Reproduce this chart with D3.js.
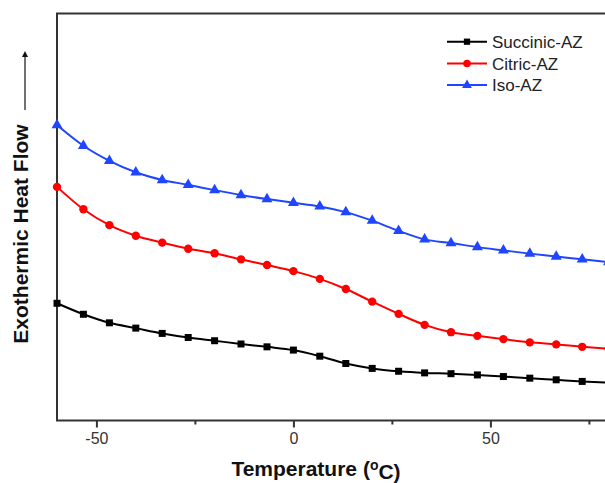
<!DOCTYPE html>
<html>
<head>
<meta charset="utf-8">
<script src="https://cdn.jsdelivr.net/npm/d3@7"></script>
<style>
  html, body { margin: 0; padding: 0; background: #fff; overflow: hidden; }
  svg { display: block; font-family: "Liberation Sans", Arial, sans-serif; }
</style>
</head>
<body>
<svg id="chart" width="605" height="483"></svg>
<script>
// Temperature sampling (°C) shared by all three DSC traces
const temperature = [-60, -53.3, -46.7, -40, -33.3, -26.7, -20, -13.3, -6.7, 0,
  6.7, 13.3, 20, 26.7, 33.3, 40, 46.7, 53.3, 60, 66.7, 73.3, 80];

// Heat flow, arbitrary units (exotherm up)
const succinicAZ = [28.8, 26.1, 24.0, 22.7, 21.4, 20.4, 19.6, 18.8, 18.1, 17.3,
  15.8, 14.0, 12.8, 12.1, 11.7, 11.5, 11.2, 10.8, 10.4, 10.0, 9.6, 9.3];
const citricAZ = [57.4, 51.9, 48.0, 45.4, 43.7, 42.2, 41.1, 39.6, 38.2, 36.7,
  34.8, 32.3, 29.2, 26.2, 23.5, 21.7, 20.8, 20.0, 19.2, 18.7, 18.1, 17.6];
const isoAZ = [72.6, 67.5, 63.8, 61.0, 59.1, 57.9, 56.6, 55.4, 54.4, 53.5,
  52.6, 51.2, 49.1, 46.6, 44.5, 43.6, 42.6, 41.8, 41.0, 40.3, 39.6, 38.9];

const seriesNames = ["Succinic-AZ", "Citric-AZ", "Iso-AZ"];
const majorTicks = [-50, 0, 50];
const minorTicks = [-25, 25, 75];

const series = [
  { name: seriesNames[0], values: succinicAZ, color: "#000000", symbol: d3.symbolSquare, size: 49 },
  { name: seriesNames[1], values: citricAZ, color: "#ff0000", symbol: d3.symbolCircle, size: 55 },
  { name: seriesNames[2], values: isoAZ, color: "#1f45ff", symbol: d3.symbolTriangle, size: 52 }
];

const svg = d3.select("#chart");
const x = d3.scaleLinear().domain([-60, 80]).range([57, 608.6]);
const y = d3.scaleLinear().domain([0, 100]).range([420.5, 13.5]);

// Plot frame
svg.append("rect")
  .attr("x", x(-60)).attr("y", y(100))
  .attr("width", x(80) - x(-60)).attr("height", y(0) - y(100))
  .attr("fill", "none").attr("stroke", "#333").attr("stroke-width", 2);

// Bottom axis: major ticks with labels, minor ticks without
const axisG = svg.append("g").attr("transform", `translate(0,${y(0)})`);
axisG.call(d3.axisBottom(x).tickValues(majorTicks).tickSize(7).tickPadding(5)
  .tickFormat(d => String(d)));
axisG.call(g => g.select(".domain").remove());
axisG.selectAll(".tick line").attr("stroke", "#333").attr("stroke-width", 2);
axisG.selectAll(".tick text").attr("fill", "#333").style("font-size", "16px")
  .style("font-family", "'Liberation Sans', Arial, sans-serif");

const minorG = svg.append("g").attr("transform", `translate(0,${y(0)})`);
minorG.call(d3.axisBottom(x).tickValues(minorTicks).tickSize(4).tickFormat(""));
minorG.call(g => g.select(".domain").remove());
minorG.selectAll(".tick line").attr("stroke", "#333").attr("stroke-width", 2);

// Curves and markers
const line = d3.line()
  .x((d, i) => x(temperature[i]))
  .y(d => y(d))
  .curve(d3.curveMonotoneX);

series.forEach(s => {
  svg.append("path")
    .datum(s.values)
    .attr("d", line)
    .attr("fill", "none")
    .attr("stroke", s.color)
    .attr("stroke-width", 2);
  svg.append("g").selectAll("path")
    .data(s.values)
    .join("path")
    .attr("transform", (d, i) => `translate(${x(temperature[i])},${y(d)})`)
    .attr("d", d3.symbol().type(s.symbol).size(s.size))
    .attr("fill", s.color);
});

// Legend
const legend = svg.append("g").attr("transform", "translate(447,41.7)");
series.forEach((s, i) => {
  const row = legend.append("g").attr("transform", `translate(0,${i * 21.7})`);
  row.append("line").attr("x1", 0).attr("x2", 40).attr("y1", 0).attr("y2", 0)
    .attr("stroke", s.color).attr("stroke-width", 2);
  row.append("path").attr("transform", "translate(20,0)")
    .attr("d", d3.symbol().type(s.symbol).size(s.size * 0.8))
    .attr("fill", s.color);
  row.append("text").attr("x", 45).attr("y", 0).attr("dy", "0.36em")
    .attr("fill", "#222").style("font-size", "17px").text(s.name);
});

// Axis titles
const xTitle = svg.append("text")
  .attr("x", 316).attr("y", 476)
  .attr("text-anchor", "middle")
  .attr("fill", "#111")
  .style("font-size", "21px").style("font-weight", "bold");
xTitle.append("tspan").text("Temperature (");
xTitle.append("tspan").attr("dy", "-0.45em").style("font-size", "14px").text("o");
xTitle.append("tspan").attr("dy", "0.45em").text("C)");

svg.append("text")
  .attr("transform", "translate(28,234) rotate(-90)")
  .attr("text-anchor", "middle")
  .attr("fill", "#111")
  .style("font-size", "21px").style("font-weight", "bold")
  .text("Exothermic Heat Flow");

// Exotherm direction arrow
svg.append("defs").append("marker")
  .attr("id", "arrowhead")
  .attr("viewBox", "0 0 10 10")
  .attr("refX", 5).attr("refY", 5)
  .attr("markerWidth", 6).attr("markerHeight", 11)
  .attr("markerUnits", "userSpaceOnUse")
  .attr("orient", "auto")
  .append("path").attr("d", "M0,0 L10,5 L0,10 Z").attr("fill", "#111");
svg.append("line")
  .attr("x1", 25).attr("x2", 25).attr("y1", 110).attr("y2", 54)
  .attr("stroke", "#111").attr("stroke-width", 1.2)
  .attr("marker-end", "url(#arrowhead)");
</script>
</body>
</html>
